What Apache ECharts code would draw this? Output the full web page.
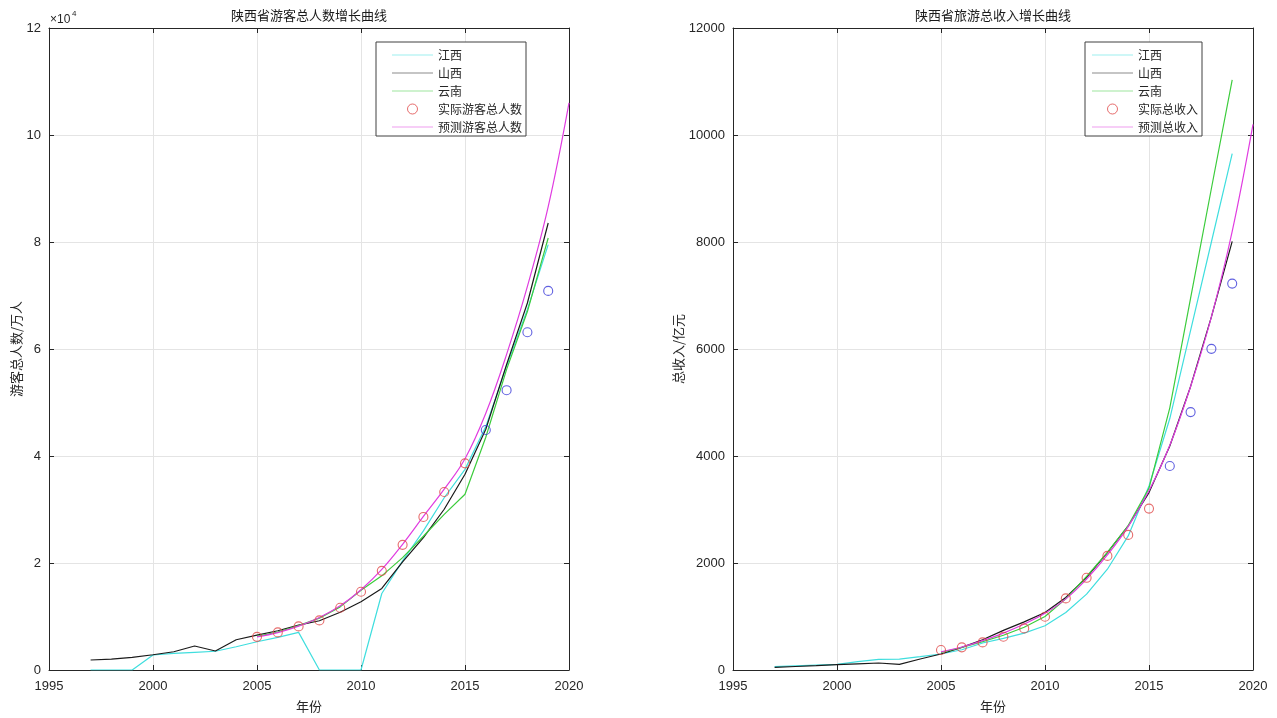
<!DOCTYPE html>
<html><head><meta charset="utf-8">
<script src="https://cdn.jsdelivr.net/npm/echarts@6/dist/echarts.min.js"></script>
<style>html,body{margin:0;padding:0;background:#fff}#c{width:1277px;height:718px}</style>
</head><body><div id="c"></div>
<script>
// ---------- data ----------
const yearsAll = [1997,1998,1999,2000,2001,2002,2003,2004,2005,2006,2007,2008,2009,2010,2011,2012,2013,2014,2015,2016,2017,2018,2019];
const yearsYN = [2005,2006,2007,2008,2009,2010,2011,2012,2013,2014,2015,2016,2017,2018,2019];
const yearsActual = [2005,2006,2007,2008,2009,2010,2011,2012,2013,2014,2015];
const yearsActualLate = [2016,2017,2018,2019];
const yearsPredict = [2005,2006,2007,2008,2009,2010,2011,2012,2013,2014,2015,2016,2017,2018,2019,2020];

// left: visitors (万人)
const jiangxiVisitors = [0,0,0,2800,3100,3300,3500,4350,5280,6100,7030,0,0,0,14300,20400,26000,32200,37500,45500,56800,67400,79500];
const shanxiVisitors  = [1865,2050,2370,2855,3415,4480,3550,5655,6530,7335,8400,9200,10800,12750,15240,20200,24760,30050,36580,45000,57100,68600,83550];
const yunnanVisitors  = [6300,7100,8300,9700,11800,14900,17600,21000,25000,29100,32850,43500,56200,67000,80750];
const actualVisitors  = [6200,7030,8150,9270,11630,14620,18530,23390,28610,33280,38630];
const actualVisitorsLate = [44850,52300,63140,70860];
const predictVisitors = [6200,7000,8200,9800,12000,15000,18800,23500,28700,33800,39500,48000,59000,71700,86600,106000];

// right: income (亿元)
const jiangxiIncome = [62,77,92,106,155,199,205,249,299,379,504,590,690,827,1076,1418,1884,2506,3440,4700,6350,8000,9650];
const shanxiIncome  = [50,65,80,100,115,131,106,205,299,423,566,740,900,1076,1356,1730,2196,2692,3316,4186,5300,6600,8010];
const yunnanIncome  = [330,420,530,650,800,1000,1330,1750,2200,2700,3400,4900,6950,9000,11030];
const actualIncome  = [373,423,516,622,778,995,1338,1723,2133,2525,3017];
const actualIncomeLate = [3813,4821,6003,7222];
const predictIncome = [340,430,550,690,860,1060,1330,1700,2150,2680,3350,4200,5300,6600,8200,10200];

const xTicks = {min:1995, max:2020, interval:5};
const yTicksL = {min:0, max:120000, interval:20000};
const yTicksR = {min:0, max:12000, interval:2000};

// ---------- style ----------
const AX = '#262626', GRIDC = '#e4e4e4';
const C_CYAN = '#3fdede', C_BLACK = '#1a1a1a', C_GREEN = '#3ccc3c', C_MAG = '#e03ce0', C_RED = '#e04848', C_BLUE = '#3a3ad8';
const CJK = '"Noto Sans CJK SC", sans-serif';
const NUMF = '"Liberation Sans", Arial, sans-serif';
const LINE_ICON = 'path://M0,0 H60 V1 H0 Z';

const zip = (xs, ys) => xs.map((x, i) => [x, ys[i]]);

function xAxes(g) {
  return [
    {type:'value', gridIndex:g, position:'bottom', ...xTicks,
     axisLine:{show:true, onZero:false, lineStyle:{color:AX, width:1}},
     axisTick:{show:true, inside:true, length:5, lineStyle:{color:AX}},
     axisLabel:{color:AX, fontSize:13, fontFamily:NUMF, margin:10, formatter: v => String(v)},
     splitLine:{show:true, lineStyle:{color:GRIDC, width:1}},
     name:'年份', nameLocation:'middle', nameGap:30,
     nameTextStyle:{color:AX, fontSize:13, fontFamily:CJK}},
    {type:'value', gridIndex:g, position:'top', ...xTicks,
     axisLine:{show:true, onZero:false, lineStyle:{color:AX, width:1}},
     axisTick:{show:true, inside:true, length:5, lineStyle:{color:AX}},
     axisLabel:{show:false}, splitLine:{show:false}}
  ];
}
function yAxes(g, ticks, name, gap, fmt) {
  return [
    {type:'value', gridIndex:g, position:'left', ...ticks,
     axisLine:{show:true, onZero:false, lineStyle:{color:AX, width:1}},
     axisTick:{show:true, inside:true, length:5, lineStyle:{color:AX}},
     axisLabel:{color:AX, fontSize:13, fontFamily:NUMF, margin:8, formatter:fmt},
     splitLine:{show:true, lineStyle:{color:GRIDC, width:1}},
     name:name, nameLocation:'middle', nameGap:gap,
     nameTextStyle:{color:AX, fontSize:13, fontFamily:CJK}},
    {type:'value', gridIndex:g, position:'right', ...ticks,
     axisLine:{show:true, onZero:false, lineStyle:{color:AX, width:1}},
     axisTick:{show:true, inside:true, length:5, lineStyle:{color:AX}},
     axisLabel:{show:false}, splitLine:{show:false}}
  ];
}
function lineS(name, data, color, ax, smooth) {
  return {type:'line', name, data, xAxisIndex:ax, yAxisIndex:ax, showSymbol:false, symbol:'none',
          smooth: smooth || false, lineStyle:{color, width:1.2}, itemStyle:{color}, z:2, silent:true};
}
function circS(name, data, color, ax) {
  return {type:'scatter', name, data, xAxisIndex:ax, yAxisIndex:ax, symbol:'circle', symbolSize:9,
          itemStyle:{color:'rgba(255,255,255,0)', borderColor:color, borderWidth:1.1}, z:3, silent:true};
}
function legendC(left, pad, gap, names) {
  return {left, top:42, orient:'vertical', padding:pad, itemWidth:41, itemHeight:10, itemGap:6,
          itemTextGap:gap, borderColor:'#404040', borderWidth:1, backgroundColor:'#fff', selectedMode:false,
          textStyle:{fontSize:12, fontFamily:CJK, color:AX, lineHeight:12},
          data:[{name:names[0], icon:LINE_ICON},{name:names[1], icon:LINE_ICON},{name:names[2], icon:LINE_ICON},
                {name:names[3], icon:'circle', itemStyle:{borderWidth:1}},{name:names[4], icon:LINE_ICON}]};
}

const chart = echarts.init(document.getElementById('c'), null, {renderer:'canvas'});
chart.setOption({
  animation:false,
  backgroundColor:'#fff',
  grid:[{left:49, top:28, width:520, height:643}, {left:733, top:28, width:520, height:643}],
  xAxis:[...xAxes(0), ...xAxes(1)],
  yAxis:[...yAxes(0, yTicksL, '游客总人数/万人', 25, v => String(v/10000)),
         ...yAxes(1, yTicksR, '总收入/亿元', 47, v => String(v))],
  legend:[legendC(376, [7,4,3,16], 7, ['江西','山西','云南','实际游客总人数','预测游客总人数']),
          legendC(1085, [7,4,3,7], 5, ['江西','山西','云南','实际总收入','预测总收入'])],
  graphic:[
    {type:'text', x:309, y:15, style:{text:'陕西省游客总人数增长曲线', align:'center', verticalAlign:'middle', textAlign:'center', textVerticalAlign:'middle', fontSize:13, fontFamily:CJK, fill:'#1a1a1a'}},
    {type:'text', x:993, y:15, style:{text:'陕西省旅游总收入增长曲线', align:'center', verticalAlign:'middle', textAlign:'center', textVerticalAlign:'middle', fontSize:13, fontFamily:CJK, fill:'#1a1a1a'}},
    {type:'text', x:50, y:14, style:{text:'×10', fontSize:12, fontFamily:NUMF, fill:AX}},
    {type:'text', x:72, y:10, style:{text:'4', fontSize:8, fontFamily:NUMF, fill:AX}}
  ],
  series:[
    lineS('江西', zip(yearsAll, jiangxiVisitors), C_CYAN, 0),
    lineS('山西', zip(yearsAll, shanxiVisitors), C_BLACK, 0),
    lineS('云南', zip(yearsYN, yunnanVisitors), C_GREEN, 0),
    circS('实际游客总人数', zip(yearsActual, actualVisitors), C_RED, 0),
    circS('实际游客总人数(后)', zip(yearsActualLate, actualVisitorsLate), C_BLUE, 0),
    lineS('预测游客总人数', zip(yearsPredict, predictVisitors), C_MAG, 0, 0.4),
    lineS('江西', zip(yearsAll, jiangxiIncome), C_CYAN, 2),
    lineS('山西', zip(yearsAll, shanxiIncome), C_BLACK, 2),
    lineS('云南', zip(yearsYN, yunnanIncome), C_GREEN, 2),
    circS('实际总收入', zip(yearsActual, actualIncome), C_RED, 2),
    circS('实际总收入(后)', zip(yearsActualLate, actualIncomeLate), C_BLUE, 2),
    lineS('预测总收入', zip(yearsPredict, predictIncome), C_MAG, 2, 0.4)
  ]
});
</script></body></html>
